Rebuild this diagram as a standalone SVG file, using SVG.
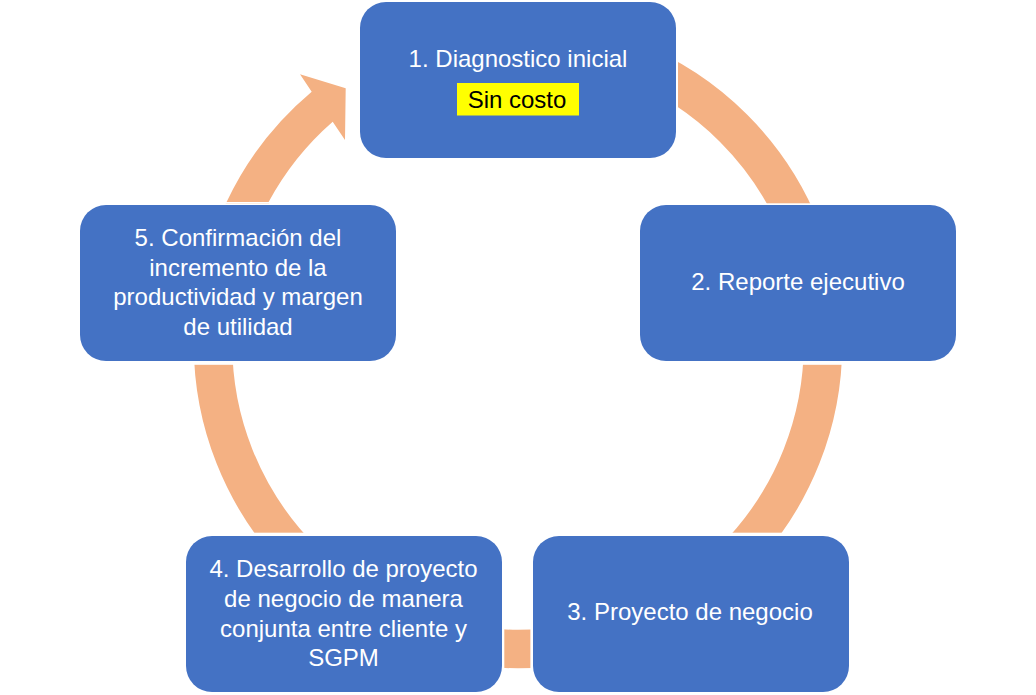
<svg xmlns="http://www.w3.org/2000/svg" width="1036" height="695" viewBox="0 0 1036 695">
  <style>
    .node { fill: #4472C4; }
    .lbl { font-family: "Liberation Sans", Arial, sans-serif; font-size: 24px; fill: #FFFFFF; text-anchor: middle; }
    .hl { font-family: "Liberation Sans", Arial, sans-serif; font-size: 24px; fill: #000000; text-anchor: middle; }
    .ring { fill: none; stroke: #F4B183; stroke-width: 38.5; }
    .arrow { fill: #F4B183; }
  </style>
  <defs>
    <mask id="gaps" maskUnits="userSpaceOnUse" x="0" y="0" width="1036" height="695">
      <rect x="0" y="0" width="1036" height="695" fill="#FFFFFF"/>
      <rect x="0" y="0" width="678" height="203.3" fill="#000000"/>
      <rect x="358" y="0" width="320" height="162" fill="#000000"/>
      <rect x="638" y="203.3" width="320" height="161.5" fill="#000000"/>
      <rect x="78" y="203.3" width="320" height="161.5" fill="#000000"/>
      <rect x="184" y="532.7" width="320.3" height="170" fill="#000000"/>
      <rect x="530.4" y="532.7" width="330" height="170" fill="#000000"/>
    </mask>
  </defs>
  <rect x="0" y="0" width="1036" height="695" fill="#FFFFFF"/>
  <g id="connectors">
    <circle class="ring" cx="518" cy="344" r="305" mask="url(#gaps)"/>
    <path class="arrow" d="M 226.6 202 A 324.5 324.5 0 0 1 311.7 91.7 L 300 74.3 L 345.7 88.3 L 345 140 L 332.7 121.7 A 287 287 0 0 0 268.6 202 Z"/>
  </g>
  <g id="node1">
    <rect class="node" x="360" y="2" width="316" height="156" rx="26" ry="26"/>
    <text class="lbl" x="518" y="67">1. Diagnostico inicial</text>
    <rect x="457" y="83" width="122" height="32.5" fill="#FFFF00"/>
    <text class="hl" x="517" y="108">Sin costo</text>
  </g>
  <g id="node2">
    <rect class="node" x="640" y="205" width="316" height="156" rx="26" ry="26"/>
    <text class="lbl" x="798" y="290">2. Reporte ejecutivo</text>
  </g>
  <g id="node3">
    <rect class="node" x="533" y="536" width="316" height="156" rx="26" ry="26"/>
    <text class="lbl" x="690" y="620">3. Proyecto de negocio</text>
  </g>
  <g id="node4">
    <rect class="node" x="186" y="536" width="316" height="156" rx="26" ry="26"/>
    <text class="lbl" x="343.5" y="576.7">4. Desarrollo de proyecto</text>
    <text class="lbl" x="343.5" y="606.7">de negocio de manera</text>
    <text class="lbl" x="343.5" y="636.7">conjunta entre cliente y</text>
    <text class="lbl" x="343.5" y="666">SGPM</text>
  </g>
  <g id="node5">
    <rect class="node" x="80" y="205" width="316" height="156" rx="26" ry="26"/>
    <text class="lbl" x="238" y="246">5. Confirmación del</text>
    <text class="lbl" x="238" y="276">incremento de la</text>
    <text class="lbl" x="238" y="305.3">productividad y margen</text>
    <text class="lbl" x="238" y="335">de utilidad</text>
  </g>
</svg>
